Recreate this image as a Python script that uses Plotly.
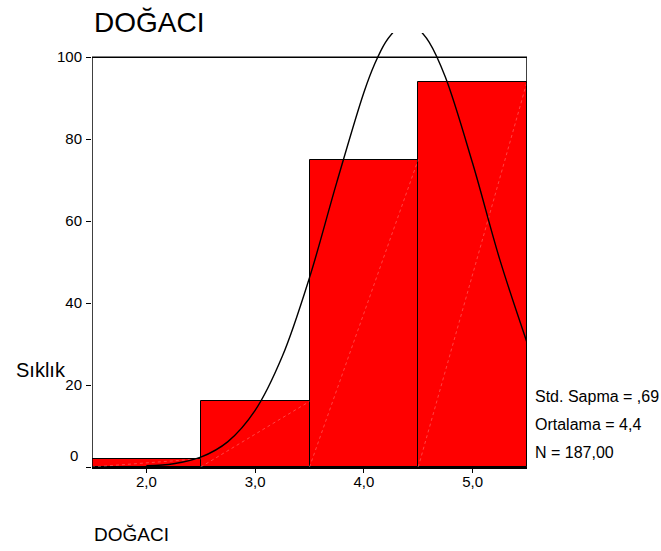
import plotly.graph_objects as go

# Data
categories = [2.0, 3.0, 4.0, 5.0]
tick_labels = ["2,0", "3,0", "4,0", "5,0"]
counts = [2, 16, 75, 94]

# Normal curve (clipped at the top of the chart)
curve_x = [2.0, 2.25, 2.5, 2.75, 3.0, 3.25, 3.5, 3.75, 4.0, 4.1, 4.2, 4.3,
           None,
           4.5, 4.6, 4.75, 5.0, 5.25, 5.5]
curve_y = [0.3, 0.8, 2.4, 6.2, 13.8, 27.0, 46.2, 69.4, 91.4, 98.4, 103.7, 107.0,
           None,
           107.0, 103.7, 95.1, 74.1, 50.6, 30.4]

stats = ["Std. Sapma = ,69", "Ortalama = 4,4", "N = 187,00"]
title_text = "DOĞACI"
y_title = "Sıklık"

FONT = "Liberation Sans, Arial, sans-serif"

fig = go.Figure()

fig.add_trace(go.Bar(
    x=categories, y=counts, width=1.0,
    marker=dict(color="#ff0000", line=dict(color="black", width=1)),
    showlegend=False, hoverinfo="skip",
))

# faint diagonal hatch lines inside each bar (bottom-left to top-right)
for c, h in zip(categories, counts):
    fig.add_trace(go.Scatter(
        x=[c - 0.5, c + 0.5], y=[0, h], mode="lines",
        line=dict(color="rgba(255,180,180,0.55)", width=0.7, dash="dot"),
        showlegend=False, hoverinfo="skip",
    ))

fig.add_trace(go.Scatter(
    x=curve_x, y=curve_y, mode="lines",
    line=dict(color="black", width=1.4, shape="spline"),
    connectgaps=False, showlegend=False, hoverinfo="skip",
))

# frame lines (left, top, right) limited to 0..100
fig.add_shape(type="line", x0=1.5, x1=1.5, y0=0, y1=100, xref="x", yref="y",
              line=dict(color="black", width=1.5))
fig.add_shape(type="line", x0=1.5, x1=5.5, y0=100, y1=100, xref="x", yref="y",
              line=dict(color="black", width=1.5))
fig.add_shape(type="line", x0=5.5, x1=5.5, y0=0, y1=100, xref="x", yref="y",
              line=dict(color="black", width=1.5))

annotations = [
    dict(text=title_text, xref="paper", yref="paper", x=0.0, y=1.0246,
         xanchor="left", yanchor="middle", showarrow=False,
         font=dict(family=FONT, size=28, color="black")),
    dict(text=title_text, xref="paper", yref="paper", x=0.0, y=-0.1566,
         xanchor="left", yanchor="middle", showarrow=False,
         font=dict(family=FONT, size=19, color="black")),
    dict(text=y_title, xref="paper", yref="paper", x=-0.18, y=0.2233,
         xanchor="left", yanchor="middle", showarrow=False,
         font=dict(family=FONT, size=20, color="black")),
    dict(text="0", xref="paper", yref="y", x=0.0, xshift=-12, y=2.7,
         xanchor="right", yanchor="middle", showarrow=False,
         font=dict(family=FONT, size=15, color="black")),
]
for s, yy in zip(stats, [0.1635, 0.099, 0.0345]):
    annotations.append(dict(text=s, xref="paper", yref="paper", x=1.0138, y=yy,
                            xanchor="left", yanchor="middle", showarrow=False,
                            font=dict(family=FONT, size=16, color="black")))

fig.update_layout(
    width=661, height=551,
    margin=dict(l=92, r=134, t=33, b=84),
    paper_bgcolor="white", plot_bgcolor="white",
    font=dict(family=FONT, size=15, color="black"),
    bargap=0,
    annotations=annotations,
    xaxis=dict(range=[1.5, 5.5], tickvals=categories, ticktext=tick_labels,
               ticks="outside", ticklen=4, tickcolor="black",
               ticklabelstandoff=-4,
               showline=True, linecolor="black", linewidth=1.5,
               showgrid=False, zeroline=False, fixedrange=True),
    yaxis=dict(range=[0, 105.9], tickvals=[0, 20, 40, 60, 80, 100],
               ticktext=["", "20", "40", "60", "80", "100"],
               ticks="outside", ticklen=5, tickcolor="black",
               ticklabelstandoff=1,
               showline=False, showgrid=False, zeroline=False, fixedrange=True),
)

fig.write_html("out.html",
               config={"displayModeBar": False},
               post_script="document.body.style.margin='0';document.body.style.padding='0';")
